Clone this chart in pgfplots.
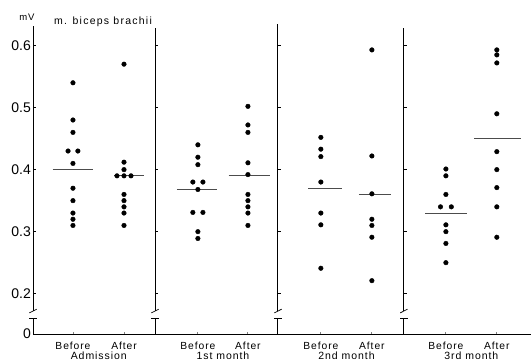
\documentclass[border=0pt]{standalone}
\usepackage{pgfplots}
\pgfplotsset{compat=1.18}
\usepackage{fontspec}
\setmainfont{Liberation Sans}
\newfontfamily\wide[LetterSpace=9]{Liberation Sans}
\newfontfamily\wider[LetterSpace=12]{Liberation Sans}
\newcommand\divider[4]{%
  \draw[line width=0.9pt] (axis cs:#1,0.135) -- (axis cs:#1,0.160);
  \draw[line width=0.7pt] (axis cs:#3,0.160) -- (axis cs:#4,0.160);
  \draw[line width=0.9pt] (axis cs:#1,0.172) -- (axis cs:#1,#2);
  \draw[line width=0.7pt] (axis cs:#3,0.169) -- (axis cs:#4,0.175);
}
\newcommand\dticks[2]{%
  \draw[line width=0.7pt] (axis cs:#1,0.2) -- (axis cs:#2,0.2);
  \draw[line width=0.7pt] (axis cs:#1,0.3) -- (axis cs:#2,0.3);
  \draw[line width=0.7pt] (axis cs:#1,0.4) -- (axis cs:#2,0.4);
  \draw[line width=0.7pt] (axis cs:#1,0.5) -- (axis cs:#2,0.5);
  \draw[line width=0.7pt] (axis cs:#1,0.6) -- (axis cs:#2,0.6);
}
\begin{document}
\begin{tikzpicture}
\path[use as bounding box] (-33pt,-28pt) rectangle (498pt,334pt);
\begin{axis}[
  anchor=south west, at={(0pt,0pt)},
  scale only axis, width=498pt, height=312pt,
  xmin=0, xmax=4.05, ymin=0.135, ymax=0.638,
  clip=false,
  axis x line=bottom, axis y line=left,
  axis line style={-, line width=0.9pt},
  y axis line style={draw=none},
  ytick={0.135,0.2,0.3,0.4,0.5,0.6},
  yticklabels={0,0.2,0.3,0.4,0.5,0.6},
  ytick style={draw=none},
  yticklabel style={font=\fontsize{14}{14}\selectfont, inner sep=0pt, anchor=east, xshift=-2pt},
  xtick={0.325,0.74,1.341,1.748,2.341,2.756,3.358,3.772},
  xticklabels={},
  tick align=inside, major tick length=2pt,
  xtick style={line width=0.9pt},
  /pgf/number format/assume math mode=true,
]
% x labels
\node[font=\wide\fontsize{10.3}{11}\selectfont] at (axis cs:0.325,0.135) [yshift=-11.7pt] {Before};
\node[font=\wide\fontsize{10.3}{11}\selectfont] at (axis cs:0.74,0.135) [yshift=-11.7pt] {After};
\node[font=\wide\fontsize{10.3}{11}\selectfont] at (axis cs:1.341,0.135) [yshift=-11.7pt] {Before};
\node[font=\wide\fontsize{10.3}{11}\selectfont] at (axis cs:1.748,0.135) [yshift=-11.7pt] {After};
\node[font=\wide\fontsize{10.3}{11}\selectfont] at (axis cs:2.341,0.135) [yshift=-11.7pt] {Before};
\node[font=\wide\fontsize{10.3}{11}\selectfont] at (axis cs:2.756,0.135) [yshift=-11.7pt] {After};
\node[font=\wide\fontsize{10.3}{11}\selectfont] at (axis cs:3.358,0.135) [yshift=-11.7pt] {Before};
\node[font=\wide\fontsize{10.3}{11}\selectfont] at (axis cs:3.772,0.135) [yshift=-11.7pt] {After};
% group names
\node[font=\wide\fontsize{10.5}{11}\selectfont] at (axis cs:0.535,0.135) [yshift=-22pt] {Admission};
\node[font=\wide\fontsize{10.5}{11}\selectfont] at (axis cs:1.545,0.135) [yshift=-22pt] {1st month};
\node[font=\wide\fontsize{10.5}{11}\selectfont] at (axis cs:2.55,0.135) [yshift=-22pt] {2nd month};
\node[font=\wide\fontsize{10.5}{11}\selectfont] at (axis cs:3.565,0.135) [yshift=-22pt] {3rd month};
\node[font=\wide\fontsize{9.5}{10}\selectfont] at (axis cs:-0.05,0.638) [yshift=5pt] {mV};
\node[font=\wider\fontsize{10.5}{11}\selectfont, anchor=west, inner sep=0pt] at (axis cs:0.17,0.638) {m. biceps brachii};
% axis and dividers with break
\divider{0}{0.632}{-0.03}{0.03}
\divider{0.992}{0.628}{0.962}{1.022}
\divider{1.992}{0.635}{1.962}{2.022}
\divider{3.016}{0.628}{2.986}{3.046}
\dticks{0}{0.024}
\dticks{0.992}{1.016}
\dticks{1.992}{2.016}
\dticks{3.016}{3.040}
% mean lines
\addplot[black!70, line width=0.7pt] coordinates {(0.16,0.40) (0.49,0.40)};
\addplot[black!70, line width=0.7pt] coordinates {(0.66,0.39) (0.90,0.39)};
\addplot[black!70, line width=0.7pt] coordinates {(1.17,0.368) (1.50,0.368)};
\addplot[black!70, line width=0.7pt] coordinates {(1.59,0.39) (1.93,0.39)};
\addplot[black!70, line width=0.7pt] coordinates {(2.24,0.37) (2.51,0.37)};
\addplot[black!70, line width=0.7pt] coordinates {(2.65,0.36) (2.91,0.36)};
\addplot[black!70, line width=0.7pt] coordinates {(3.19,0.33) (3.53,0.33)};
\addplot[black!70, line width=0.7pt] coordinates {(3.59,0.45) (3.97,0.45)};
% dots
\addplot[only marks, mark=*, mark size=2.3pt, black] coordinates {
 (0.325,0.54) (0.325,0.48) (0.325,0.46) (0.285,0.43) (0.365,0.43) (0.325,0.41)
 (0.325,0.37) (0.325,0.35) (0.325,0.33) (0.325,0.32) (0.325,0.31)};
\addplot[only marks, mark=*, mark size=2.3pt, black] coordinates {
 (0.74,0.57) (0.74,0.412) (0.74,0.40) (0.683,0.39) (0.74,0.39) (0.797,0.39)
 (0.74,0.36) (0.74,0.35) (0.74,0.34) (0.74,0.33) (0.74,0.31)};
\addplot[only marks, mark=*, mark size=2.3pt, black] coordinates {
 (1.341,0.44) (1.341,0.42) (1.341,0.408) (1.30,0.38) (1.382,0.38) (1.341,0.368)
 (1.30,0.331) (1.382,0.331) (1.341,0.30) (1.341,0.289)};
\addplot[only marks, mark=*, mark size=2.3pt, black] coordinates {
 (1.748,0.502) (1.748,0.472) (1.748,0.46) (1.748,0.411) (1.748,0.392)
 (1.748,0.36) (1.748,0.35) (1.748,0.34) (1.748,0.33) (1.748,0.31)};
\addplot[only marks, mark=*, mark size=2.3pt, black] coordinates {
 (2.341,0.452) (2.341,0.433) (2.341,0.421) (2.341,0.38) (2.341,0.33)
 (2.341,0.311) (2.341,0.241)};
\addplot[only marks, mark=*, mark size=2.3pt, black] coordinates {
 (2.756,0.593) (2.756,0.422) (2.756,0.361) (2.756,0.32) (2.756,0.31)
 (2.756,0.291) (2.756,0.221)};
\addplot[only marks, mark=*, mark size=2.3pt, black] coordinates {
 (3.358,0.401) (3.358,0.39) (3.358,0.36) (3.314,0.34) (3.402,0.34)
 (3.358,0.311) (3.358,0.30) (3.358,0.281) (3.358,0.25)};
\addplot[only marks, mark=*, mark size=2.3pt, black] coordinates {
 (3.772,0.593) (3.772,0.585) (3.772,0.572) (3.772,0.49) (3.772,0.429)
 (3.772,0.40) (3.772,0.371) (3.772,0.34) (3.772,0.291)};
\end{axis}
\end{tikzpicture}
\end{document}
